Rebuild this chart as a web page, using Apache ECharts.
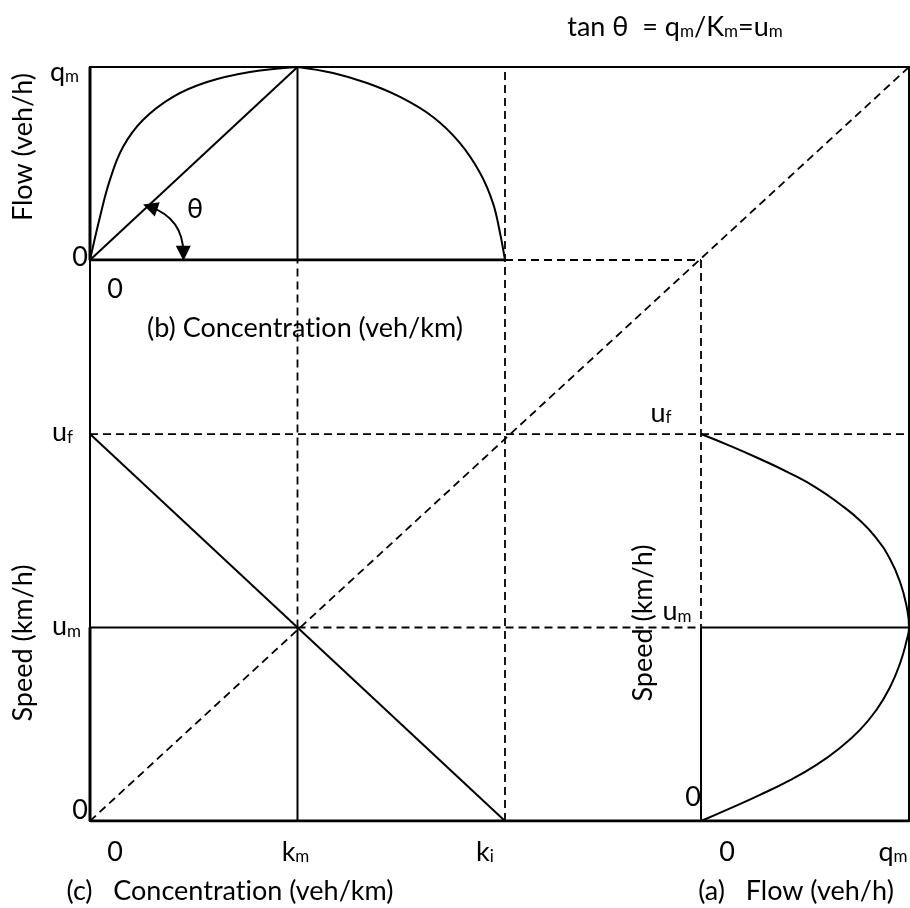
<!DOCTYPE html>
<html>
<head>
<meta charset="utf-8">
<script src="https://cdn.jsdelivr.net/npm/echarts@6/dist/echarts.min.js"></script>
<style>
html,body{margin:0;padding:0;background:#fff;}
#c{width:910px;height:908px;}
</style>
</head>
<body>
<div id="c"></div>
<script>
// ---------------- DATA (normalised units: k_m = 1, k_i = 2, u_m = 1, u_f = 2, q_m = 1) ----------------
const concTickValues = [0, 1, 2];                 // 0, k_m, k_i
const concTickLabels = ['0', 'k{s|m}', 'k{s|i}'];
const speedTickValues = [0, 1, 2];                // 0, u_m, u_f
const speedTickLabels = ['0', 'u{s|m}', 'u{s|f}'];
const flowTickValues = [0, 1];                    // 0, q_m
const flowTickLabels = ['0', 'q{s|m}'];

// (b) flow – concentration curve (left and right branch)
const qkLeftConc  = [0, 0.048, 0.096, 0.159, 0.255, 0.40, 0.564, 0.771, 1];
const qkLeftFlow  = [0, 0.223, 0.415, 0.585, 0.725, 0.845, 0.922, 0.974, 1];
const qkRightConc = [1, 1.171, 1.335, 1.494, 1.653, 1.783, 1.880, 1.942, 1.976, 2];
const qkRightFlow = [1, 0.969, 0.917, 0.845, 0.741, 0.606, 0.451, 0.295, 0.140, 0];

// (a) flow – speed curve
const quFlow  = [0, 0.137, 0.281, 0.426, 0.555, 0.667, 0.764, 0.844, 0.908, 0.957, 0.988, 1,
                 0.988, 0.957, 0.908, 0.844, 0.764, 0.667, 0.555, 0.426, 0.281, 0.137, 0];
const quSpeed = [2.0, 1.940, 1.872, 1.798, 1.722, 1.638, 1.553, 1.460, 1.355, 1.235, 1.112, 1,
                 0.930, 0.815, 0.690, 0.575, 0.471, 0.377, 0.290, 0.210, 0.134, 0.064, 0];

// theta angle arrow (panel b, data coords: concentration, flow)
const thetaArcFrom = [0.29, 0.275];
const thetaArcTo   = [0.45, 0.035];

// ---------------- derived values ----------------
const KM = concTickValues[1], KI = concTickValues[2];
const UM = speedTickValues[1], UF = speedTickValues[2];
const QM = flowTickValues[1];
const zip = (a, b) => a.map((v, i) => [v, b[i]]);

// ---------------- LAYOUT ----------------
const FONT = 'Lato, "Open Sans", "DejaVu Sans", sans-serif';
const FS = 27, SUBFS = 17;
const L = {
  main: {left: 90, top: 67, width: 819, height: 754},
  mainMax: {x: 3.947, y: 3.897},
  gridB: {left: 90, top: 67, width: 415, height: 193},
  gridA: {left: 701, top: 434, width: 208, height: 387}
};
const solid = {color: '#000', width: 2, type: 'solid'};
const heavy = {color: '#000', width: 3, type: 'solid'};
const dashed = {color: '#000', width: 1.8, type: [8, 5]};

function lineSeries(data, style, xi, yi, smooth) {
  return {
    type: 'line', data: data, xAxisIndex: xi, yAxisIndex: yi,
    symbol: 'none', smooth: smooth || false, silent: true, animation: false,
    lineStyle: style, z: style.type === 'solid' ? 3 : 2
  };
}
function hiddenAxis(gi, min, max) {
  return {type: 'value', gridIndex: gi, min: min, max: max, show: false,
          axisLine: {show: false}, axisTick: {show: false}, axisLabel: {show: false}, splitLine: {show: false}};
}

const chart = echarts.init(document.getElementById('c'), null, {renderer: 'canvas'});

const baseSeries = [
  // main / (c) speed–concentration
  lineSeries([[0, 0], [L.mainMax.x, L.mainMax.y]], dashed, 0, 0),
  lineSeries([[0, UF], [L.mainMax.x, UF]], dashed, 0, 0),
  lineSeries([[KI, 0], [KI, L.mainMax.y]], dashed, 0, 0),
  lineSeries([[0, UM], [KM, UM]], solid, 0, 0),
  lineSeries([[KM, 0], [KM, UM]], solid, 0, 0),
  lineSeries([[0, UF], [KI, 0]], solid, 0, 0),
  lineSeries([[0, UM], [0, 0], [L.mainMax.x, 0]], heavy, 0, 0),
  // (b) flow–concentration
  lineSeries([[0, QM], [0, 0], [KI, 0]], heavy, 1, 1),
  lineSeries([[KM, 0], [KM, QM]], solid, 1, 1),
  lineSeries([[0, 0], [KM, QM]], solid, 1, 1),
  {
    type: 'lines', coordinateSystem: 'cartesian2d', xAxisIndex: 1, yAxisIndex: 1,
    silent: true, animation: false, z: 4,
    symbol: ['triangle', 'triangle'], symbolSize: [15, 15],
    lineStyle: {color: '#000', width: 2, type: 'solid', curveness: 0.35, opacity: 1},
    itemStyle: {color: '#000'},
    data: [{coords: [thetaArcFrom, thetaArcTo]}]
  },
  lineSeries(zip(qkLeftConc, qkLeftFlow), solid, 1, 1, 0.4),
  lineSeries(zip(qkRightConc, qkRightFlow), solid, 1, 1, 0.4),
  // (a) flow–speed
  lineSeries([[0, 0], [0, UM]], solid, 2, 2),
  lineSeries([[0, UM], [QM, UM]], solid, 2, 2),
  lineSeries(zip(quFlow, quSpeed), solid, 2, 2, 0.5)
];

chart.setOption({
  animation: false,
  backgroundColor: '#fff',
  grid: [
    Object.assign({show: true, borderColor: '#000', borderWidth: 2, backgroundColor: 'transparent', containLabel: false}, L.main),
    Object.assign({show: false, containLabel: false}, L.gridB),
    Object.assign({show: false, containLabel: false}, L.gridA)
  ],
  xAxis: [hiddenAxis(0, 0, L.mainMax.x), hiddenAxis(1, 0, KI), hiddenAxis(2, 0, QM)],
  yAxis: [hiddenAxis(0, 0, L.mainMax.y), hiddenAxis(1, 0, QM), hiddenAxis(2, 0, UF)],
  series: baseSeries
});

// ---------- projection lines between panels, located through the axes ----------
const px = (axis, idx, v) => chart.convertToPixel(axis === 'x' ? {xAxisIndex: idx} : {yAxisIndex: idx}, v);
const fromPx = (axis, idx, p) => chart.convertFromPixel(axis === 'x' ? {xAxisIndex: idx} : {yAxisIndex: idx}, p);
const bBaseU = fromPx('y', 0, px('y', 1, 0));     // (b) q=0 line in main speed units
const aZeroK = fromPx('x', 0, px('x', 2, 0));     // (a) q=0 line in main concentration units

const connectors = [
  lineSeries([[KI, bBaseU], [aZeroK, bBaseU]], dashed, 0, 0),
  lineSeries([[aZeroK, bBaseU], [aZeroK, UM]], dashed, 0, 0),
  lineSeries([[KM, UM], [KM, bBaseU]], dashed, 0, 0),
  lineSeries([[KM, UM], [aZeroK, UM]], dashed, 0, 0)
];

// ---------- text ----------
const rich = {s: {fontSize: SUBFS, fontFamily: FONT, fill: '#000', verticalAlign: 'bottom', lineHeight: SUBFS}};
function txt(text, x, y, align, rot, size) {
  return {
    type: 'text', x: x, y: y, rotation: rot || 0, silent: true, z: 10,
    style: {text: text, fontFamily: FONT, fontSize: size || FS, fill: '#000',
            align: align || 'center', verticalAlign: 'middle', lineHeight: size || FS, rich: rich}
  };
}
const CONC = 'Concentrat\u200Cion (veh/km)';
const g = [];
// title
g.push(txt('tan θ  = q{s|m}/K{s|m}=u{s|m}', 675, 27));
// (c) concentration ticks
const concDx = [25, -2, -20];
concTickValues.forEach((v, i) => g.push(txt(concTickLabels[i], px('x', 0, v) + concDx[i], px('y', 0, 0) + 31)));
// (b) concentration zero tick
g.push(txt(concTickLabels[0], px('x', 1, 0) + 25, px('y', 1, 0) + 29));
// (b) flow ticks
g.push(txt(flowTickLabels[0], px('x', 1, 0) - 2, px('y', 1, 0) - 3, 'right'));
g.push(txt(flowTickLabels[1], px('x', 1, 0) - 40, px('y', 1, QM) + 5, 'left'));
// (c) speed ticks
g.push(txt(speedTickLabels[0], px('x', 0, 0) - 2, px('y', 0, 0) - 11, 'right'));
g.push(txt(speedTickLabels[1], px('x', 0, 0) - 38, px('y', 0, UM) - 1, 'left'));
g.push(txt(speedTickLabels[2], px('x', 0, 0) - 38, px('y', 0, UF) - 2, 'left'));
// (a) flow ticks
g.push(txt(flowTickLabels[0], px('x', 2, 0) + 26, px('y', 2, 0) + 31));
g.push(txt(flowTickLabels[1], px('x', 2, QM) - 16, px('y', 2, 0) + 31));
// (a) speed ticks
g.push(txt(speedTickLabels[0], px('x', 2, 0) - 8, px('y', 2, 0) - 24));
g.push(txt(speedTickLabels[1], px('x', 2, 0) - 24, px('y', 2, UM) - 16));
g.push(txt(speedTickLabels[2], px('x', 2, 0) - 40, px('y', 2, UF) - 21));
// axis titles
g.push(txt('Flow (veh/h)', 23, 147, 'center', Math.PI / 2));
g.push(txt('(b) ' + CONC, 305, 328));
g.push(txt('Speed (km/h)', 23, 643, 'center', Math.PI / 2));
g.push(txt('(c)   ' + CONC, 230, 891));
g.push(txt('Speed (km/h)', 643, 623, 'center', Math.PI / 2));
g.push(txt('(a)   Flow (veh/h)', 796, 891));
// angle label
g.push(txt('θ', 195, 209));

chart.setOption({series: baseSeries.concat(connectors), graphic: {elements: g}});
</script>
</body>
</html>
